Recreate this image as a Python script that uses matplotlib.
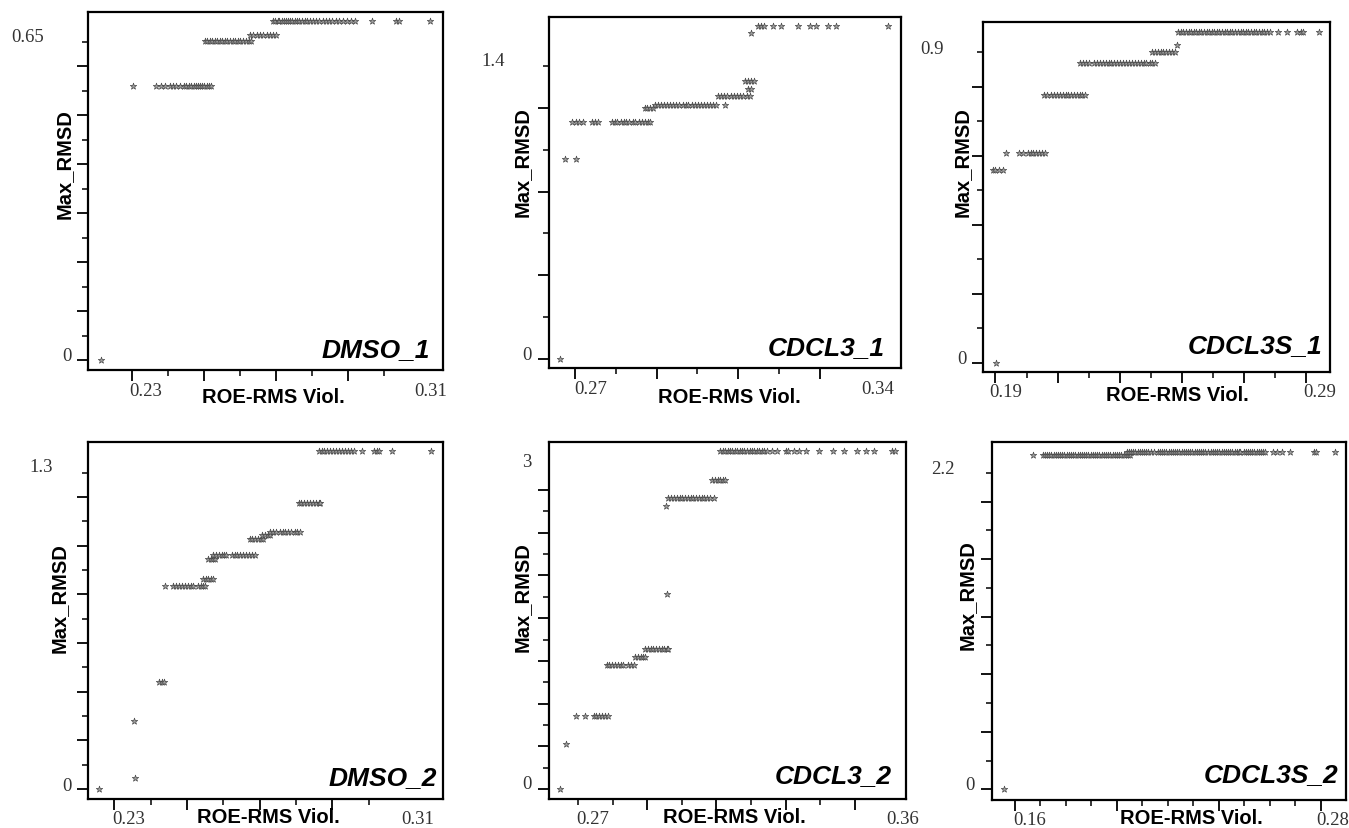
import matplotlib
matplotlib.use('Agg')
import matplotlib.pyplot as plt

plt.rcParams['font.family'] = ['Liberation Sans', 'DejaVu Sans']

#%% data: each panel is a list of Max_RMSD levels and the ROE-RMS values sitting on each level
names = ['DMSO_1', 'CDCL3_1', 'CDCL3S_1', 'DMSO_2', 'CDCL3_2', 'CDCL3S_2']

dmso1_y = [0.0, 0.561, 0.653, 0.664, 0.693]
dmso1_x = [
    [0.2213],
    [0.2303, 0.2366, 0.2381, 0.2390, 0.2404, 0.2413, 0.2422, 0.2434, 0.2443, 0.2450, 0.2458,
     0.2464, 0.2471, 0.2477, 0.2482, 0.2489, 0.2495, 0.2500, 0.2507, 0.2513, 0.2520],
    [0.2502, 0.2509, 0.2516, 0.2522, 0.2530, 0.2537, 0.2543, 0.2551, 0.2558, 0.2564, 0.2572,
     0.2579, 0.2585, 0.2593, 0.2600, 0.2608, 0.2615, 0.2624, 0.2631],
    [0.2627, 0.2636, 0.2646, 0.2655, 0.2663, 0.2674, 0.2684, 0.2692, 0.2701],
    [0.2692, 0.2698, 0.2704, 0.2709, 0.2716, 0.2722, 0.2727, 0.2734, 0.2740, 0.2745, 0.2752,
     0.2758, 0.2765, 0.2771, 0.2779, 0.2786, 0.2795, 0.2803, 0.2812, 0.2820, 0.2829, 0.2838,
     0.2847, 0.2855, 0.2866, 0.2874, 0.2885, 0.2897, 0.2908, 0.2918, 0.2967, 0.3034, 0.3042,
     0.3127],
]

cdcl31_y = [0.0, 0.955, 1.134, 1.201, 1.212, 1.257, 1.289, 1.328, 1.559, 1.591]
cdcl31_x = [
    [0.2663],
    [0.2676, 0.2702],
    [0.2692, 0.2701, 0.2710, 0.2720, 0.2741, 0.2750, 0.2757, 0.2790, 0.2797, 0.2804, 0.2812,
     0.2819, 0.2826, 0.2833, 0.2841, 0.2848, 0.2856, 0.2864, 0.2871, 0.2878, 0.2884],
    [0.2871, 0.2877, 0.2884, 0.2891],
    [0.2896, 0.2904, 0.2911, 0.2918, 0.2926, 0.2934, 0.2941, 0.2948, 0.2956, 0.2964, 0.2971,
     0.2978, 0.2986, 0.2994, 0.3001, 0.3008, 0.3016, 0.3024, 0.3031, 0.3038, 0.3046, 0.3067],
    [0.3051, 0.3059, 0.3066, 0.3074, 0.3082, 0.3090, 0.3098, 0.3105, 0.3113, 0.3121, 0.3129],
    [0.3125, 0.3131],
    [0.3118, 0.3124, 0.3131, 0.3139],
    [0.3133],
    [0.3149, 0.3157, 0.3164, 0.3186, 0.3205, 0.3247, 0.3277, 0.3291, 0.3320, 0.3341, 0.3467],
]

cdcl3s1_y = [0.0, 0.558, 0.607, 0.774, 0.868, 0.900, 0.919, 0.958]
cdcl3s1_x = [
    [0.1902],
    [0.1891, 0.1900, 0.1911, 0.1923],
    [0.1935, 0.1977, 0.1990, 0.2004, 0.2013, 0.2022, 0.2031, 0.2041, 0.2050, 0.2061],
    [0.2055, 0.2066, 0.2080, 0.2090, 0.2099, 0.2108, 0.2117, 0.2126, 0.2135, 0.2144, 0.2153,
     0.2162, 0.2171, 0.2180, 0.2189],
    [0.2173, 0.2182, 0.2192, 0.2201, 0.2217, 0.2226, 0.2236, 0.2245, 0.2255, 0.2264, 0.2273,
     0.2283, 0.2292, 0.2302, 0.2311, 0.2320, 0.2330, 0.2339, 0.2348, 0.2358, 0.2367, 0.2377,
     0.2386, 0.2396, 0.2405, 0.2415],
    [0.2404, 0.2413, 0.2422, 0.2432, 0.2441, 0.2450, 0.2460, 0.2469, 0.2478],
    [0.2484],
    [0.2489, 0.2497, 0.2505, 0.2514, 0.2522, 0.2530, 0.2538, 0.2546, 0.2555, 0.2563, 0.2571,
     0.2580, 0.2588, 0.2596, 0.2605, 0.2613, 0.2621, 0.2630, 0.2638, 0.2646, 0.2655, 0.2663,
     0.2672, 0.2680, 0.2689, 0.2697, 0.2706, 0.2714, 0.2723, 0.2731, 0.2740, 0.2749, 0.2757,
     0.2766, 0.2775, 0.2784, 0.2811, 0.2838, 0.2870, 0.2883, 0.2891, 0.2943],
]

dmso2_y = [0.0, 0.044, 0.281, 0.439, 0.834, 0.861, 0.947, 0.962, 1.026, 1.045, 1.056, 1.176, 1.388]
dmso2_x = [
    [0.2259],
    [0.2357],
    [0.2354],
    [0.2424, 0.2431, 0.2437],
    [0.2441, 0.2462, 0.2470, 0.2478, 0.2486, 0.2494, 0.2502, 0.2510, 0.2517, 0.2531, 0.2538,
     0.2545, 0.2550],
    [0.2545, 0.2552, 0.2559, 0.2566, 0.2572],
    [0.2559, 0.2566, 0.2572, 0.2578],
    [0.2572, 0.2580, 0.2588, 0.2596, 0.2603, 0.2608, 0.2623, 0.2631, 0.2639, 0.2647, 0.2655,
     0.2663, 0.2671, 0.2680, 0.2688],
    [0.2673, 0.2680, 0.2688, 0.2695, 0.2703, 0.2710],
    [0.2706, 0.2714, 0.2722, 0.2729],
    [0.2729, 0.2738, 0.2746, 0.2755, 0.2763, 0.2771, 0.2779, 0.2787, 0.2796, 0.2804, 0.2812],
    [0.2807, 0.2815, 0.2823, 0.2831, 0.2839, 0.2847, 0.2855, 0.2862, 0.2867],
    [0.2862, 0.2870, 0.2878, 0.2886, 0.2894, 0.2902, 0.2910, 0.2918, 0.2926, 0.2934, 0.2942,
     0.2950, 0.2959, 0.2981, 0.3013, 0.3022, 0.3027, 0.3064, 0.3171],
]

cdcl32_y = [0.0, 0.422, 0.682, 1.164, 1.236, 1.308, 1.830, 2.653, 2.728, 2.894, 3.166]
cdcl32_x = [
    [0.2647],
    [0.2663],
    [0.2693, 0.2719, 0.2744, 0.2752, 0.2760, 0.2768, 0.2777, 0.2787],
    [0.2782, 0.2790, 0.2798, 0.2806, 0.2814, 0.2822, 0.2830, 0.2845, 0.2852, 0.2860],
    [0.2864, 0.2872, 0.2880, 0.2888, 0.2893],
    [0.2893, 0.2901, 0.2909, 0.2917, 0.2925, 0.2933, 0.2941, 0.2949, 0.2956, 0.2961],
    [0.2958],
    [0.2953],
    [0.2961, 0.2969, 0.2977, 0.2985, 0.2993, 0.3001, 0.3009, 0.3017, 0.3025, 0.3033, 0.3041,
     0.3049, 0.3057, 0.3065, 0.3073, 0.3081, 0.3092],
    [0.3087, 0.3095, 0.3103, 0.3111, 0.3119, 0.3126],
    [0.3111, 0.3118, 0.3125, 0.3132, 0.3139, 0.3146, 0.3153, 0.3160, 0.3167, 0.3174, 0.3181,
     0.3189, 0.3196, 0.3203, 0.3210, 0.3217, 0.3224, 0.3232, 0.3239, 0.3246, 0.3261, 0.3275,
     0.3300, 0.3308, 0.3324, 0.3338, 0.3358, 0.3396, 0.3438, 0.3469, 0.3508, 0.3532, 0.3556,
     0.3609, 0.3617],
]

cdcl3s2_y = [0.0, 2.321, 2.345]
cdcl3s2_x = [
    [0.1557],
    [0.1671, 0.1710, 0.1718, 0.1727, 0.1735, 0.1744, 0.1752, 0.1761, 0.1769, 0.1778, 0.1787,
     0.1795, 0.1804, 0.1812, 0.1821, 0.1829, 0.1838, 0.1847, 0.1855, 0.1864, 0.1872, 0.1881,
     0.1889, 0.1898, 0.1906, 0.1915, 0.1924, 0.1932, 0.1941, 0.1949, 0.1958, 0.1966, 0.1975,
     0.1984, 0.1992, 0.2001, 0.2010, 0.2018, 0.2027, 0.2035, 0.2044, 0.2053],
    [0.2040, 0.2048, 0.2056, 0.2065, 0.2073, 0.2082, 0.2090, 0.2099, 0.2107, 0.2116, 0.2124,
     0.2133, 0.2145, 0.2160, 0.2169, 0.2177, 0.2186, 0.2194, 0.2203, 0.2211, 0.2220, 0.2228,
     0.2237, 0.2245, 0.2254, 0.2262, 0.2271, 0.2279, 0.2288, 0.2296, 0.2305, 0.2313, 0.2322,
     0.2330, 0.2339, 0.2347, 0.2356, 0.2368, 0.2377, 0.2385, 0.2394, 0.2402, 0.2411, 0.2419,
     0.2428, 0.2436, 0.2445, 0.2453, 0.2462, 0.2470, 0.2478, 0.2485, 0.2497, 0.2506, 0.2514,
     0.2523, 0.2531, 0.2540, 0.2548, 0.2557, 0.2565, 0.2574, 0.2582, 0.2614, 0.2627, 0.2647,
     0.2680, 0.2774, 0.2782, 0.2856],
]

panel_y = [dmso1_y, cdcl31_y, cdcl3s1_y, dmso2_y, cdcl32_y, cdcl3s2_y]
panel_x = [dmso1_x, cdcl31_x, cdcl3s1_x, dmso2_x, cdcl32_x, cdcl3s2_x]

# labelled ticks (only the end values carry text)
ylab_vals = [[0, 0.65], [0, 1.4], [0, 0.9], [0, 1.3], [0, 3.0], [0, 2.2]]
xlab_vals = [[0.23, 0.31], [0.27, 0.34], [0.19, 0.29], [0.23, 0.31], [0.27, 0.36], [0.16, 0.28]]

# tick marks
y_major = [[0, 0.1, 0.2, 0.3, 0.4, 0.5, 0.6],
           [0, 0.4, 0.8, 1.2],
           [0, 0.2, 0.4, 0.6, 0.8],
           [0, 0.2, 0.4, 0.6, 0.8, 1.0, 1.2],
           [0, 0.4, 0.8, 1.2, 1.6, 2.0, 2.4, 2.8],
           [0, 0.4, 0.8, 1.2, 1.6, 2.0]]
y_minor = [[0.05, 0.15, 0.25, 0.35, 0.45, 0.55, 0.65],
           [0.2, 0.6, 1.0, 1.4],
           [0.1, 0.3, 0.5, 0.7, 0.9],
           [0.1, 0.3, 0.5, 0.7, 0.9, 1.1, 1.3],
           [0.2, 0.6, 1.0, 1.4, 1.8, 2.2, 2.6],
           [0.2, 0.6, 1.0, 1.4, 1.8, 2.2]]
x_major = [[0.23, 0.25, 0.27, 0.29],
           [0.27, 0.29, 0.31, 0.33],
           [0.19, 0.21, 0.23, 0.25, 0.27, 0.29],
           [0.23, 0.25, 0.27, 0.29],
           [0.29, 0.31, 0.33, 0.35],
           [0.16, 0.20, 0.24, 0.28]]
x_minor = [[0.24, 0.26, 0.28, 0.30],
           [0.28, 0.30, 0.32],
           [0.20, 0.22, 0.24, 0.26, 0.28],
           [0.24, 0.26, 0.28, 0.30],
           [0.27, 0.28, 0.30, 0.32, 0.34],
           [0.17, 0.18, 0.19, 0.21, 0.22, 0.23, 0.25, 0.26, 0.27]]

#%% layout (pixel-measured, figure fractions)
rects = [[0.0652, 0.5525, 0.2632, 0.4318],
         [0.4070, 0.5549, 0.2609, 0.4234],
         [0.7287, 0.5501, 0.2572, 0.4222],
         [0.0652, 0.0350, 0.2632, 0.4306],
         [0.4070, 0.0350, 0.2646, 0.4306],
         [0.7354, 0.0338, 0.2624, 0.4318]]
xlims = [(0.2177, 0.3164), (0.2636, 0.3500), (0.1860, 0.2977),
         (0.2228, 0.3204), (0.2615, 0.3649), (0.1511, 0.2899)]
ylims = [(-0.0204, 0.7113), (-0.043, 1.634), (-0.027, 0.987),
         (-0.041, 1.426), (-0.094, 3.25), (-0.074, 2.414)]
# pixel offsets of the end labels [(dx,dy) low, (dx,dy) high]
yoff = [[(-21, 4), (-60, 6)], [(-22, 4), (-56, 5)], [(-21, 4), (-51, 3)],
        [(-21, 4), (-47, 6)], [(-22, 5), (-22, 7)], [(-22, 5), (-49, 4)]]
xoff = [[(13, -21), (11, -21)], [(16, -21), (17, -21)], [(10, -20), (14, -20)],
        [(15, -20), (13, -20)], [(14, -20), (14, -20)], [(15, -20), (12, -20)]]
xlab_pos = [(0.521, -0.075), (0.511, -0.080), (0.559, -0.063),
            (0.507, -0.050), (0.518, -0.050), (0.562, -0.048)]
ylab_pos = [(-0.068, 0.578), (-0.077, 0.590), (-0.061, 0.603),
            (-0.082, 0.566), (-0.076, 0.569), (-0.071, 0.575)]
title_off = [(-13, 14), (-16, 14), (-8, 20), (-6, 15), (-14, 17), (-8, 19)]

fig = plt.figure(figsize=(13.49, 8.29), dpi=100)
serif = ['Liberation Serif', 'DejaVu Serif']

for i in range(6):
    ax = fig.add_axes(rects[i])
    for yv, xs in zip(panel_y[i], panel_x[i]):
        ax.scatter(xs, [yv]*len(xs), marker='*', s=24, c='#a0a0a0',
                   edgecolors='#404040', linewidths=0.45, zorder=3)

    ax.set_xlim(xlims[i])
    ax.set_ylim(ylims[i])
    ax.set_xticks(x_major[i])
    ax.set_xticks(x_minor[i], minor=True)
    ax.set_yticks(y_major[i])
    ax.set_yticks(y_minor[i], minor=True)
    ax.tick_params(which='major', direction='out', length=8, width=1.3,
                   labelbottom=False, labelleft=False)
    ax.tick_params(which='minor', direction='out', length=4.5, width=1.1)

    for sp in ax.spines.values():
        sp.set_linewidth(1.6)

    for v, (dx, dy) in zip(ylab_vals[i], yoff[i]):
        ax.annotate(f'{v:g}', xy=(0, v), xycoords=('axes fraction', 'data'),
                    xytext=(dx, dy), textcoords='offset pixels',
                    ha='center', va='center', fontsize=13.5, family=serif, color='#333333')
    for v, (dx, dy) in zip(xlab_vals[i], xoff[i]):
        ax.annotate(f'{v:g}', xy=(v, 0), xycoords=('data', 'axes fraction'),
                    xytext=(dx, dy), textcoords='offset pixels',
                    ha='center', va='center', fontsize=13.5, family=serif, color='#333333')

    ax.set_xlabel('ROE-RMS Viol.', fontsize=14.5, fontweight='bold', va='center')
    ax.xaxis.set_label_coords(*xlab_pos[i])
    ax.set_ylabel('Max_RMSD', fontsize=14.5, fontweight='bold', va='center')
    ax.yaxis.set_label_coords(*ylab_pos[i])

    ax.annotate(names[i], xy=(1, 0), xycoords='axes fraction',
                xytext=title_off[i], textcoords='offset pixels',
                ha='right', va='baseline', fontsize=19, fontweight='bold', fontstyle='italic')

plt.savefig('out.png', dpi=100)
